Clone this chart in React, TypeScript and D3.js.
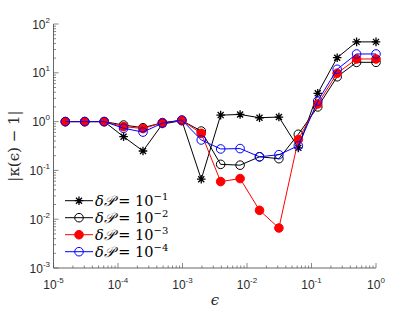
import { useEffect, useRef } from 'react'
import * as d3 from 'd3'

// epsilon = 2^-16 ... 2^0
const eps = [
  0.0000152588, 0.0000305176, 0.0000610352, 0.00012207, 0.000244141, 0.000488281,
  0.000976563, 0.00195313, 0.00390625, 0.0078125, 0.015625, 0.03125, 0.0625,
  0.125, 0.25, 0.5, 1,
]

const dp1 = [1, 1, 1, 0.49, 0.25, 0.89, 1.05, 0.066, 1.36, 1.4, 1.2, 1.24, 0.29, 3.8, 20.4, 43, 43]
const dp2 = [1, 1, 1, 0.85, 0.75, 0.95, 1.05, 0.64, 0.133, 0.128, 0.19, 0.174, 0.55, 2.0, 8.3, 16.4, 16.4]
const dp3 = [1, 1, 1, 0.79, 0.72, 0.95, 1.05, 0.575, 0.059, 0.068, 0.0152, 0.0066, 0.43, 2.3, 9.8, 19.2, 19.2]
const dp4 = [1, 1, 1, 0.73, 0.61, 0.93, 1.08, 0.42, 0.275, 0.28, 0.19, 0.21, 0.32, 2.64, 11.8, 24.3, 24.3]

const seriesNames = ['-1', '-2', '-3', '-4']
const seriesValues = [dp1, dp2, dp3, dp4]
const seriesColors = ['#000000', '#000000', '#ff0000', '#0000ff']
const seriesMarkers = ['star', 'open', 'filled', 'open']

const xTicks = [1e-5, 1e-4, 1e-3, 1e-2, 1e-1, 1]
const yTicks = [1e-3, 1e-2, 1e-1, 1, 10, 100]

export default function App() {
  const svgRef = useRef<SVGSVGElement | null>(null)

  useEffect(() => {
    if (!svgRef.current) return
    const svg = d3.select(svgRef.current)
    svg.selectAll('*').remove()

    const x = d3.scaleLog().domain([1e-5, 1]).range([53.5, 376])
    const y = d3.scaleLog().domain([1e-3, 100]).range([268, 24])
    const axisColor = '#555'
    const labelColor = '#2a2a2a'
    const font = 'Liberation Sans, Arial, sans-serif'

    // minor + major ticks
    const g = svg.append('g')
    for (let e = -5; e < 0; e++) {
      for (let m = 1; m < 10; m++) {
        const px = x(m * Math.pow(10, e))
        g.append('line').attr('x1', px).attr('x2', px)
          .attr('y1', 268).attr('y2', 268 - (m === 1 ? 5 : 2.5))
          .attr('stroke', axisColor).attr('stroke-width', 0.7)
      }
    }
    for (let e = -3; e < 2; e++) {
      for (let m = 1; m < 10; m++) {
        const py = y(m * Math.pow(10, e))
        g.append('line').attr('y1', py).attr('y2', py)
          .attr('x1', 53.5).attr('x2', 53.5 + (m === 1 ? 5 : 2.5))
          .attr('stroke', axisColor).attr('stroke-width', 0.7)
      }
    }
    g.append('line').attr('x1', 376).attr('x2', 376).attr('y1', 268).attr('y2', 263)
      .attr('stroke', axisColor).attr('stroke-width', 0.7)
    g.append('line').attr('x1', 53.5).attr('x2', 58.5).attr('y1', 24).attr('y2', 24)
      .attr('stroke', axisColor).attr('stroke-width', 0.7)
    g.append('line').attr('x1', 53.5).attr('x2', 376).attr('y1', 268).attr('y2', 268)
      .attr('stroke', axisColor).attr('stroke-width', 0.9)
    g.append('line').attr('x1', 53.5).attr('x2', 53.5).attr('y1', 24).attr('y2', 268)
      .attr('stroke', axisColor).attr('stroke-width', 0.9)

    // tick labels
    xTicks.forEach(v => {
      const t = g.append('text').attr('x', x(v)).attr('y', 289)
        .attr('text-anchor', 'middle').attr('font-family', font)
        .attr('font-size', 12).attr('fill', labelColor)
      t.append('tspan').text('10')
      t.append('tspan').attr('dy', -6).attr('font-size', 8).text(String(Math.round(Math.log10(v))))
    })
    yTicks.forEach(v => {
      const t = g.append('text').attr('x', 50).attr('y', y(v) + 4.5)
        .attr('text-anchor', 'end').attr('font-family', font)
        .attr('font-size', 12).attr('fill', labelColor)
      t.append('tspan').text('10')
      t.append('tspan').attr('dy', -6).attr('font-size', 8).text(String(Math.round(Math.log10(v))))
    })

    // axis labels
    svg.append('text').attr('x', 215).attr('y', 305).attr('text-anchor', 'middle')
      .attr('font-family', 'DejaVu Serif, serif').attr('font-style', 'italic')
      .attr('font-size', 15).attr('fill', labelColor).text('ϵ')
    svg.append('text').attr('transform', 'translate(19,146) rotate(-90)')
      .attr('text-anchor', 'middle').attr('font-family', 'DejaVu Serif, serif')
      .attr('font-size', 15).attr('fill', labelColor)
      .text('|κ(ϵ) − 1|')

    const starPath = (cx: number, cy: number, r: number) =>
      `M${cx - r},${cy}L${cx + r},${cy}M${cx},${cy - r}L${cx},${cy + r}` +
      `M${cx - r * 0.7},${cy - r * 0.7}L${cx + r * 0.7},${cy + r * 0.7}` +
      `M${cx - r * 0.7},${cy + r * 0.7}L${cx + r * 0.7},${cy - r * 0.7}`

    const drawMarker = (sel: any, kind: string, color: string, cx: number, cy: number) => {
      if (kind === 'star') {
        sel.append('path').attr('d', starPath(cx, cy, 4.3))
          .attr('stroke', color).attr('stroke-width', 1.3).attr('fill', 'none')
      } else if (kind === 'open') {
        sel.append('circle').attr('cx', cx).attr('cy', cy).attr('r', 4.3)
          .attr('stroke', color).attr('stroke-width', 1).attr('fill', 'none')
      } else {
        sel.append('circle').attr('cx', cx).attr('cy', cy).attr('r', 4.3)
          .attr('stroke', color).attr('stroke-width', 1).attr('fill', color)
      }
    }

    const line = d3.line<number>()
      .x((_, i) => x(eps[i]))
      .y(d => y(d))

    seriesValues.forEach((vals, si) => {
      const sg = svg.append('g')
      sg.append('path').attr('d', line(vals) as string)
        .attr('fill', 'none').attr('stroke', seriesColors[si]).attr('stroke-width', 1)
      vals.forEach((v, i) => drawMarker(sg, seriesMarkers[si], seriesColors[si], x(eps[i]), y(v)))
    })

    // legend
    const lg = svg.append('g')
    seriesNames.forEach((n, i) => {
      const ly = 200.7 + i * 17
      lg.append('line').attr('x1', 65).attr('x2', 93).attr('y1', ly).attr('y2', ly)
        .attr('stroke', seriesColors[i]).attr('stroke-width', 1)
      drawMarker(lg, seriesMarkers[i], seriesColors[i], 79, ly)
      const t = lg.append('text').attr('x', 95).attr('y', ly + 5)
        .attr('font-family', 'DejaVu Serif, serif').attr('font-size', 14.5).attr('fill', '#000')
      t.append('tspan').attr('font-style', 'italic').text('δ𝒫')
      t.append('tspan').text(' = 10')
      t.append('tspan').attr('dy', -6).attr('font-size', 10).text(n.replace('-', '−'))
    })
  }, [])

  return (
    <div style={{ position: 'fixed', left: 0, top: 0 }}>
      <svg ref={svgRef} width={415} height={312} style={{ display: 'block', background: '#fff' }}></svg>
    </div>
  )
}
